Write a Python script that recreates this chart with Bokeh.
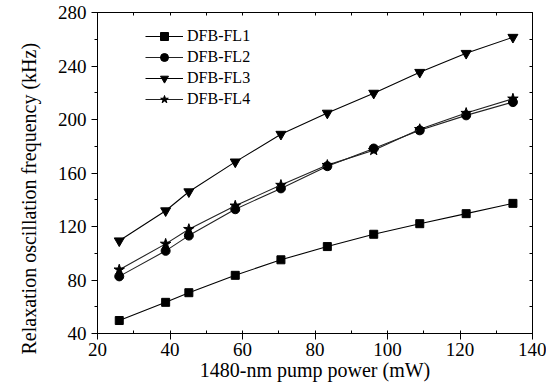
from bokeh.plotting import figure
from bokeh.models import (LinearAxis, SingleIntervalTicker, FixedTicker, Range1d,
                          Legend, LegendItem, Title)
from bokeh.embed import file_html
from bokeh.resources import INLINE

# Data
pump_power = [26.0, 38.8, 45.2, 58.0, 70.6, 83.4, 96.2, 108.9, 121.7, 134.6]
fl1 = [49.7, 63.3, 70.5, 83.5, 95.1, 105.0, 114.2, 122.1, 129.6, 137.3]
fl2 = [82.7, 101.8, 113.2, 132.9, 148.5, 165.1, 178.3, 191.9, 203.1, 213.0]
fl3 = [109.3, 131.8, 146.0, 168.3, 189.0, 204.8, 219.7, 235.3, 249.5, 261.5]
fl4 = [87.7, 107.0, 118.0, 135.5, 151.0, 165.9, 177.0, 192.7, 204.8, 215.5]
series_names = ["DFB-FL1", "DFB-FL2", "DFB-FL3", "DFB-FL4"]
x_label = "1480-nm pump power (mW)"
y_label = "Relaxation oscillation frequency (kHz)"
top_ticks = [20, 30, 40, 50, 60, 70, 80, 90, 100, 110, 120, 130, 140]
right_ticks = [40, 60, 80, 100, 120, 140, 160, 180, 200, 220, 240, 260, 280]

FONT = "Liberation Serif"
FRAME_H = 321

p = figure(frame_width=435, frame_height=FRAME_H, output_backend="svg", toolbar_location=None,
           x_range=Range1d(20, 140), y_range=Range1d(40, 280),
           min_border_left=97, min_border_right=14, min_border_top=12, min_border_bottom=0)
p.background_fill_color = "white"
p.border_fill_color = "white"
p.outline_line_color = "black"
p.outline_line_width = 1
p.grid.visible = False

# bottom axis
xa = p.xaxis[0]
xa.ticker = SingleIntervalTicker(interval=20, num_minor_ticks=2)
xa.major_tick_out = 6
xa.major_tick_in = 0
xa.minor_tick_out = 0
xa.minor_tick_in = 3
xa.major_label_standoff = 3
xa.axis_label = x_label
xa.axis_label_standoff = 0
xa.axis_label_text_font = FONT
xa.axis_label_text_font_size = "20px"
xa.axis_label_text_font_style = "normal"
xa.major_label_text_font = FONT
xa.major_label_text_font_size = "19px"
xa.axis_line_color = "black"
xa.major_tick_line_color = "black"
xa.minor_tick_line_color = "black"
xa.major_label_text_color = "black"
xa.axis_label_text_color = "black"

# left axis
ya = p.yaxis[0]
ya.ticker = SingleIntervalTicker(interval=40, num_minor_ticks=2)
ya.major_tick_out = 6
ya.major_tick_in = 0
ya.minor_tick_out = 3
ya.minor_tick_in = 0
ya.major_label_standoff = 5
ya.major_label_text_font = FONT
ya.major_label_text_font_size = "19px"
ya.axis_line_color = "black"
ya.major_tick_line_color = "black"
ya.minor_tick_line_color = "black"
ya.major_label_text_color = "black"

# y title as a left-side title, shifted down like the reference
ytitle = Title(text=y_label, align="left", offset=-21, standoff=29,
               text_font=FONT, text_font_size="20px", text_font_style="normal",
               text_color="black")
p.add_layout(ytitle, "left")

# top axis (inward ticks only, no labels)
ta = LinearAxis(ticker=FixedTicker(ticks=[], minor_ticks=top_ticks),
                major_tick_in=0, major_tick_out=0, minor_tick_in=3, minor_tick_out=0,
                major_label_standoff=0,
                axis_line_color="black", minor_tick_line_color="black")
p.add_layout(ta, "above")

# right axis (inward ticks only, no labels)
ra = LinearAxis(ticker=FixedTicker(ticks=[], minor_ticks=right_ticks),
                major_tick_in=0, major_tick_out=0, minor_tick_in=3, minor_tick_out=0,
                major_label_standoff=0,
                axis_line_color="black", minor_tick_line_color="black")
p.add_layout(ra, "right")

series = [fl1, fl2, fl3, fl4]
markers = ["square", "circle", "inverted_triangle", "star"]
sizes = [8, 9, 10, 11]
line_colors = ["black", "#222222", "black", "#222222"]

items = []
for name, ys, mk, sz, lc in zip(series_names, series, markers, sizes, line_colors):
    ln = p.line(pump_power, ys, line_color=lc, line_width=1.1)
    sc = p.scatter(pump_power, ys, marker=mk, size=sz, fill_color="black",
                   line_color="black")
    items.append(LegendItem(label=name, renderers=[ln, sc]))

legend = Legend(items=items, location=(48, FRAME_H - 97), padding=0, margin=0, spacing=1,
                glyph_width=38, glyph_height=20, label_height=20, label_standoff=4,
                label_text_font=FONT, label_text_font_size="16px",
                label_text_color="black", border_line_color=None,
                background_fill_alpha=0)
p.add_layout(legend, "center")

open("out.html", "w").write(file_html(p, INLINE))
